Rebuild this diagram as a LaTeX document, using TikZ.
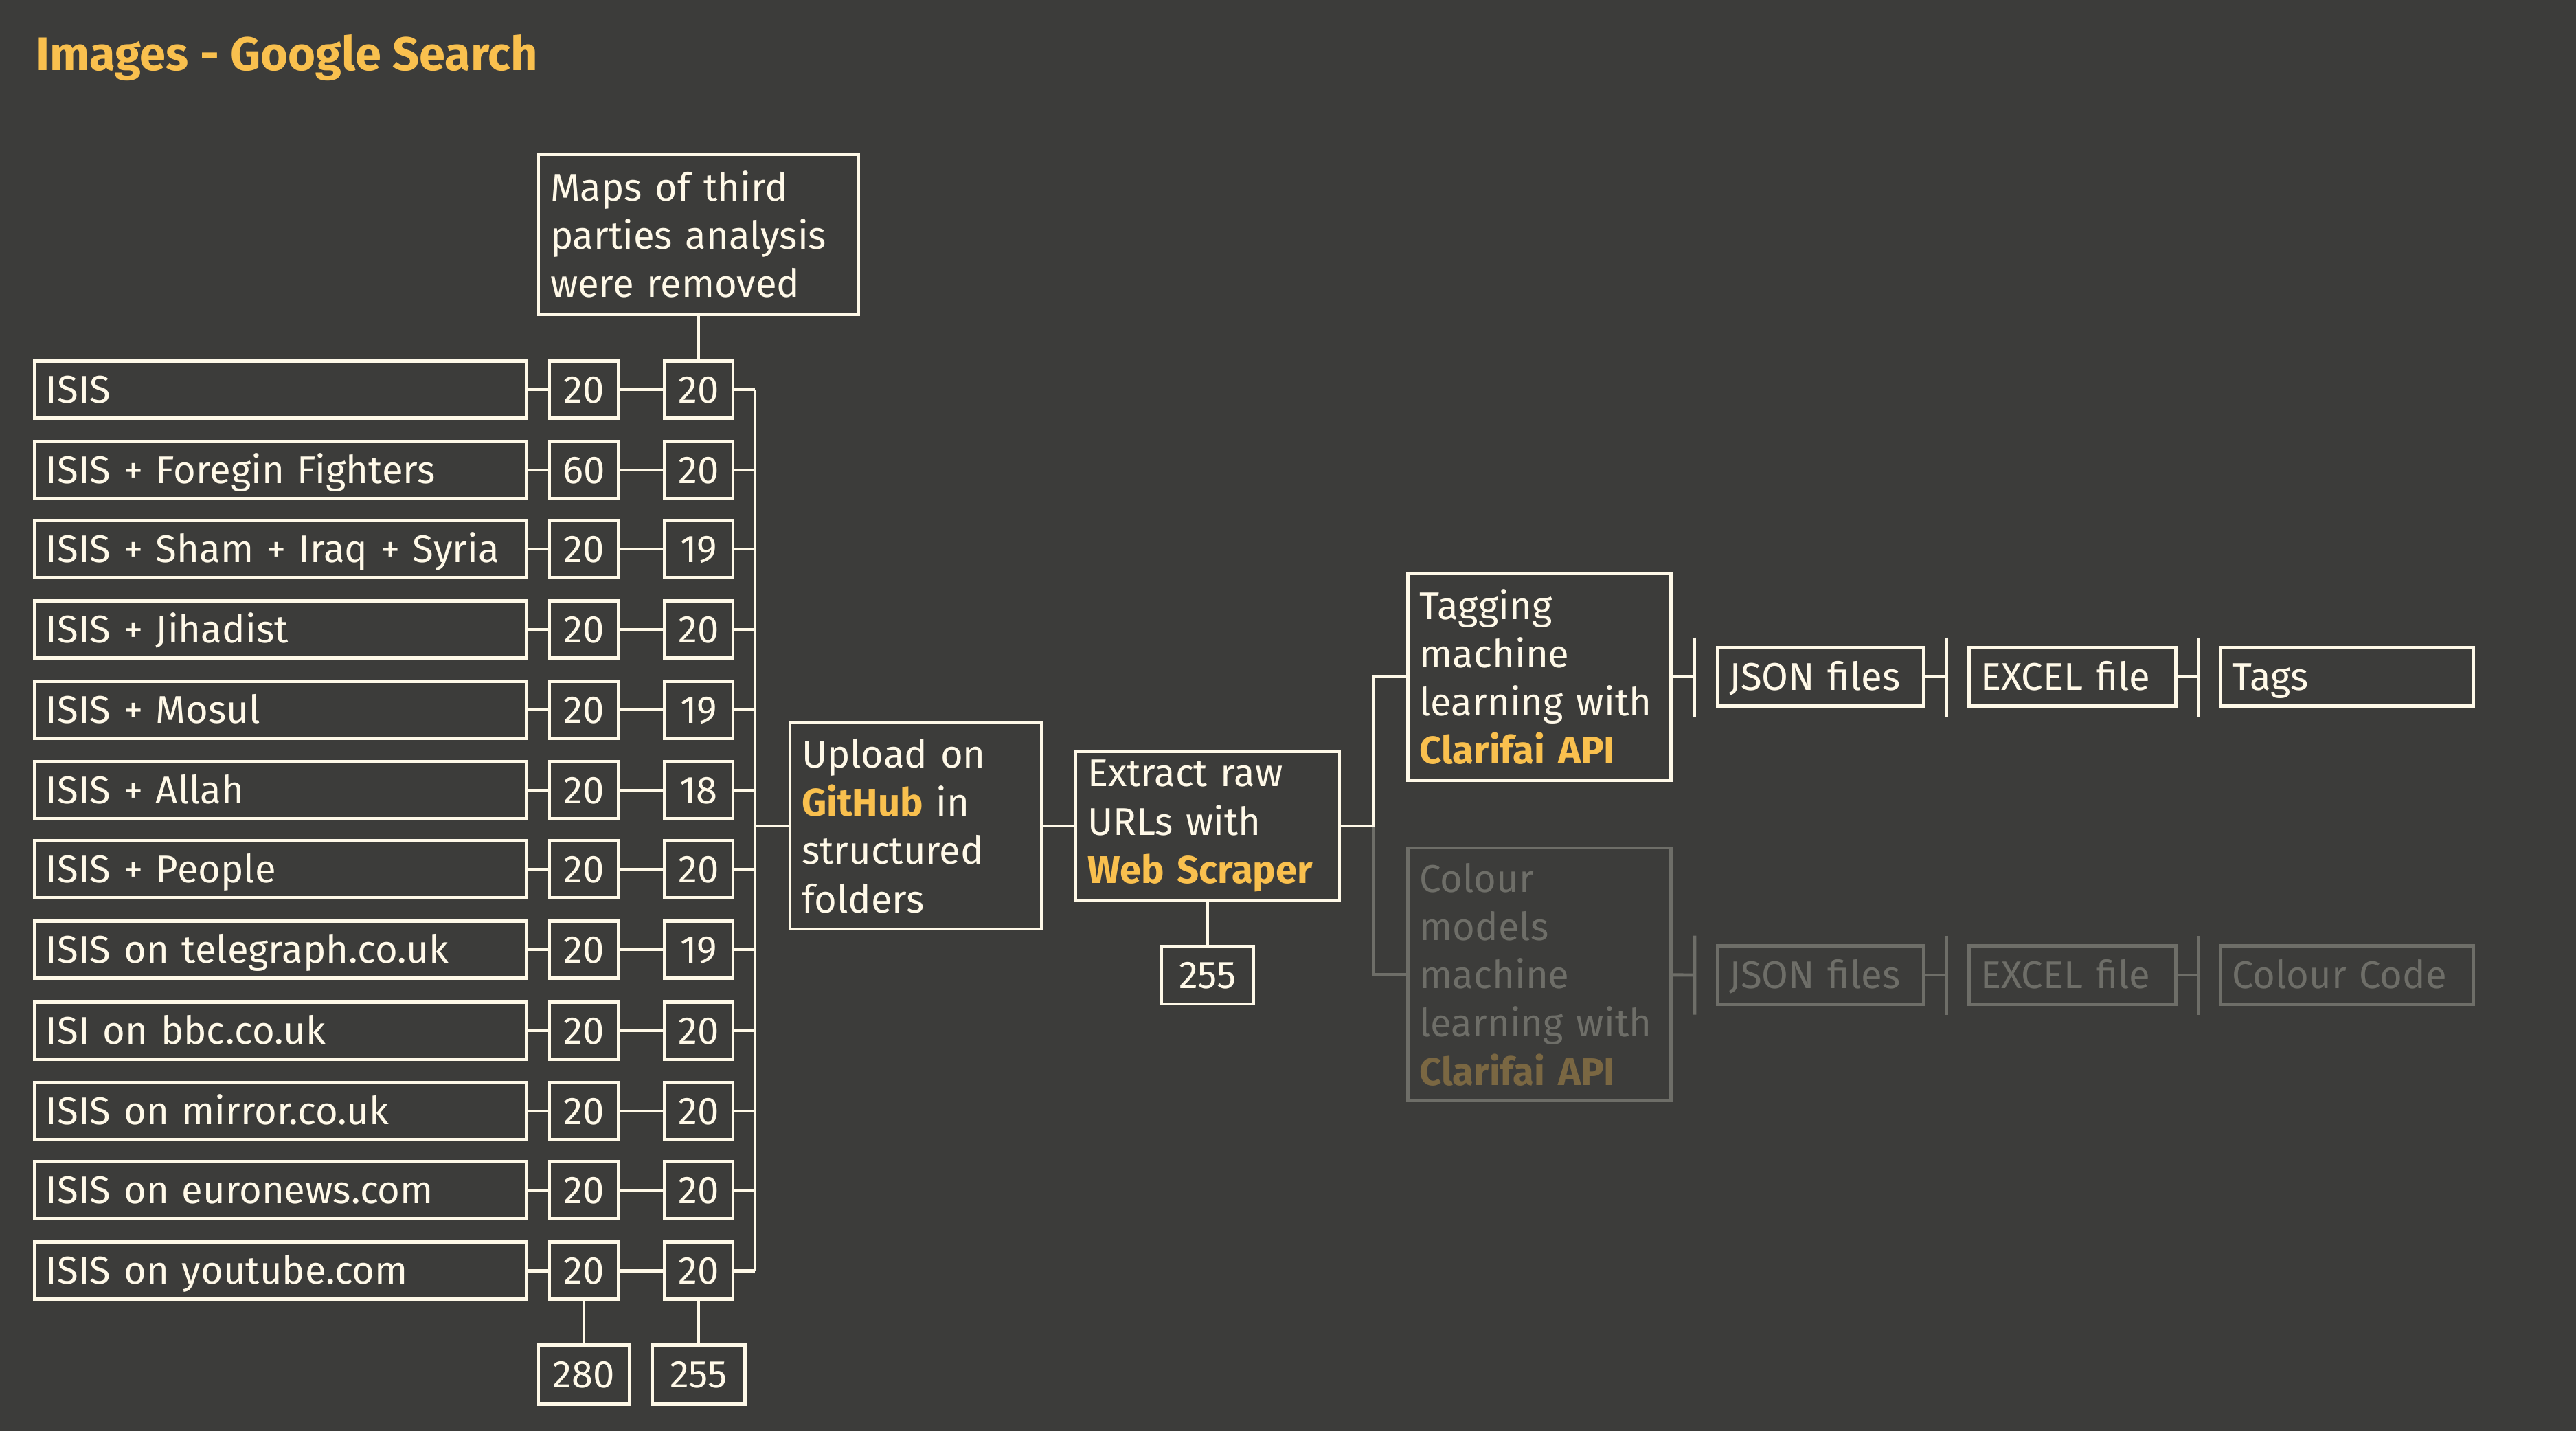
\documentclass[tikz,border=0pt]{standalone}
\usepackage{fontspec}
\setmainfont{Fira Sans}
\usepackage{xcolor}
\definecolor{bg}{HTML}{3C3C3A}
\definecolor{cream}{HTML}{FFF9E8}
\definecolor{gold}{HTML}{F9C04E}
\definecolor{dimgray}{HTML}{6E6E68}
\definecolor{dimgold}{HTML}{7A6742}
\newcommand{\brand}[1]{{\color{gold}\bfseries #1}}
\newcommand{\dimbrand}[1]{{\color{dimgold}\bfseries #1}}

\begin{document}
\begin{tikzpicture}
    \tikzstyle{every node}=[font=\fontsize{16}{20}\selectfont]
    \tikzstyle{box}=[draw=cream,line width=1.4pt,text=cream,inner xsep=0.17cm,inner ysep=0pt,align=left]
    \tikzstyle{query}=[box,text width=6.82cm,minimum height=0.83cm,text height=0.38cm,text depth=0pt]
    \tikzstyle{tally}=[box,align=center,minimum width=1cm,minimum height=0.83cm,text height=0.38cm,text depth=0pt]
    \tikzstyle{file}=[box,minimum height=0.85cm,text height=0.38cm,text depth=0pt]
    \tikzstyle{faded}=[draw=dimgray,text=dimgray]
    \tikzstyle{wire}=[cream,line width=1.4pt]
    \fill[bg](0,0)rectangle(37.5,-20.83);
    \useasboundingbox(0,0)rectangle(37.5,-20.83);

    \node(title)[anchor=base west,inner sep=0pt,text=gold,font=\fontsize{19.5}{23}\selectfont\bfseries]at(0.52,-1.02){Images - Google Search};

    % search queries, raw count, count after cleaning
    \draw node(q1)[query]at(4.08,-5.67){ISIS}
          node(a1)[tally]at(8.50,-5.67){20}
          node(b1)[tally]at(10.17,-5.67){20};
    \draw node(q2)[query]at(4.08,-6.84){ISIS + Foregin Fighters}
          node(a2)[tally]at(8.50,-6.84){60}
          node(b2)[tally]at(10.17,-6.84){20};
    \draw node(q3)[query]at(4.08,-7.99){ISIS + Sham + Iraq + Syria}
          node(a3)[tally]at(8.50,-7.99){20}
          node(b3)[tally]at(10.17,-7.99){19};
    \draw node(q4)[query]at(4.08,-9.16){ISIS + Jihadist}
          node(a4)[tally]at(8.50,-9.16){20}
          node(b4)[tally]at(10.17,-9.16){20};
    \draw node(q5)[query]at(4.08,-10.33){ISIS + Mosul}
          node(a5)[tally]at(8.50,-10.33){20}
          node(b5)[tally]at(10.17,-10.33){19};
    \draw node(q6)[query]at(4.08,-11.50){ISIS + Allah}
          node(a6)[tally]at(8.50,-11.50){20}
          node(b6)[tally]at(10.17,-11.50){18};
    \draw node(q7)[query]at(4.08,-12.65){ISIS + People}
          node(a7)[tally]at(8.50,-12.65){20}
          node(b7)[tally]at(10.17,-12.65){20};
    \draw node(q8)[query]at(4.08,-13.82){ISIS on telegraph.co.uk}
          node(a8)[tally]at(8.50,-13.82){20}
          node(b8)[tally]at(10.17,-13.82){19};
    \draw node(q9)[query]at(4.08,-15.00){ISI on bbc.co.uk}
          node(a9)[tally]at(8.50,-15.00){20}
          node(b9)[tally]at(10.17,-15.00){20};
    \draw node(q10)[query]at(4.08,-16.17){ISIS on mirror.co.uk}
          node(a10)[tally]at(8.50,-16.17){20}
          node(b10)[tally]at(10.17,-16.17){20};
    \draw node(q11)[query]at(4.08,-17.32){ISIS on euronews.com}
          node(a11)[tally]at(8.50,-17.32){20}
          node(b11)[tally]at(10.17,-17.32){20};
    \draw node(q12)[query]at(4.08,-18.49){ISIS on youtube.com}
          node(a12)[tally]at(8.50,-18.49){20}
          node(b12)[tally]at(10.17,-18.49){20};

    \draw node(maps)[box,text width=4.32cm,minimum height=2.33cm]at(10.17,-3.41){Maps of third\\parties analysis\\were removed}
          node(t1)[tally,minimum width=1.32cm,minimum height=0.86cm]at(8.50,-20.00){280}
          node(t2)[tally,minimum width=1.35cm,minimum height=0.86cm]at(10.17,-20.00){255};

    \coordinate(bus)at(10.99,-5.67);
    \coordinate(busend)at(10.99,-18.49);
    \draw[wire](q1)--(a1) (a1)--(b1) (b1)--(b1-|bus);
    \draw[wire](q2)--(a2) (a2)--(b2) (b2)--(b2-|bus);
    \draw[wire](q3)--(a3) (a3)--(b3) (b3)--(b3-|bus);
    \draw[wire](q4)--(a4) (a4)--(b4) (b4)--(b4-|bus);
    \draw[wire](q5)--(a5) (a5)--(b5) (b5)--(b5-|bus);
    \draw[wire](q6)--(a6) (a6)--(b6) (b6)--(b6-|bus);
    \draw[wire](q7)--(a7) (a7)--(b7) (b7)--(b7-|bus);
    \draw[wire](q8)--(a8) (a8)--(b8) (b8)--(b8-|bus);
    \draw[wire](q9)--(a9) (a9)--(b9) (b9)--(b9-|bus);
    \draw[wire](q10)--(a10) (a10)--(b10) (b10)--(b10-|bus);
    \draw[wire](q11)--(a11) (a11)--(b11) (b11)--(b11-|bus);
    \draw[wire](q12)--(a12) (a12)--(b12) (b12)--(b12-|bus);
    \draw[wire](bus)--(busend);
    \draw[wire](maps)--(b1);
    \draw[wire](a12)--(t1) (b12)--(t2);

    % pipeline
    \draw node(upload)[box,text width=3.32cm,minimum height=3.00cm]at(13.33,-12.02){Upload on\\\brand{GitHub} in\\structured\\folders}
          node(extract)[box,text width=3.50cm,minimum height=2.16cm]at(17.58,-12.02){Extract raw\\URLs with\\\brand{Web Scraper}}
          node(urls)[tally,minimum width=1.34cm,minimum height=0.84cm]at(17.58,-14.19){255};
    \draw[wire](upload)--(upload-|bus);
    \draw[wire](upload)--(extract);
    \draw[wire](extract)--(urls);

    \draw node(tagging)[box,text width=3.49cm,minimum height=3.01cm]at(22.41,-9.85){Tagging\\machine\\learning with\\\brand{Clarifai API}}
          node(colour)[box,faded,text width=3.49cm,minimum height=3.68cm]at(22.41,-14.18){Colour\\models\\machine\\learning with\\\dimbrand{Clarifai API}};
    \coordinate(split)at(19.99,-12.02);
    \draw[wire,dimgray](split)|-(colour);
    \draw[wire](extract)--(split)|-(tagging);

    % tagging outputs
    \draw node(json)[file,text width=2.66cm]at(26.50,-9.85){JSON files}
          node(excel)[file,text width=2.67cm]at(30.165,-9.85){EXCEL file}
          node(tags)[file,text width=3.34cm]at(34.16,-9.85){Tags};
    \coordinate(k1)at(24.67,-9.85);
    \coordinate(k2)at(28.33,-9.85);
    \coordinate(k3)at(32.00,-9.85);
    \draw[wire](tagging)--(k1) ([yshift=5.75mm]k1)--([yshift=-5.75mm]k1);
    \draw[wire](json)--(k2) ([yshift=5.75mm]k2)--([yshift=-5.75mm]k2);
    \draw[wire](excel)--(k3) ([yshift=5.75mm]k3)--([yshift=-5.75mm]k3);

    % colour outputs
    \draw node(json2)[file,faded,text width=2.66cm]at(26.50,-14.19){JSON files}
          node(excel2)[file,faded,text width=2.67cm]at(30.165,-14.19){EXCEL file}
          node(code)[file,faded,text width=3.34cm]at(34.16,-14.19){Colour Code};
    \coordinate(k4)at(24.67,-14.19);
    \coordinate(k5)at(28.33,-14.19);
    \coordinate(k6)at(32.00,-14.19);
    \draw[wire,dimgray](colour)--(k4) ([yshift=5.75mm]k4)--([yshift=-5.75mm]k4);
    \draw[wire,dimgray](json2)--(k5) ([yshift=5.75mm]k5)--([yshift=-5.75mm]k5);
    \draw[wire,dimgray](excel2)--(k6) ([yshift=5.75mm]k6)--([yshift=-5.75mm]k6);
\end{tikzpicture}
\end{document}
